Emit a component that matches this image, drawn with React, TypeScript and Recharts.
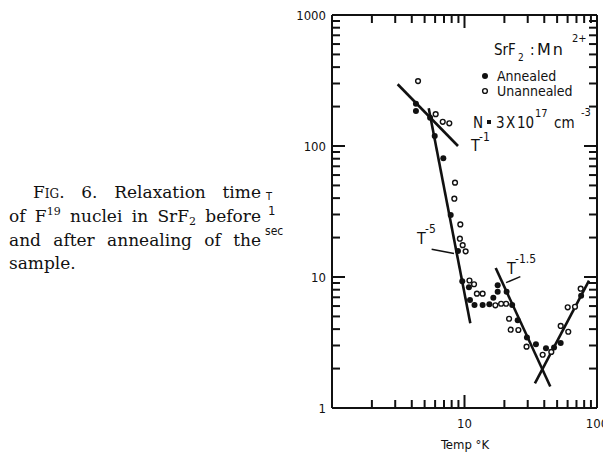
import { ReferenceLine, Scatter, ScatterChart, XAxis, YAxis } from "recharts";

const annealedTemp = [4.3, 4.3, 5.5, 5.96, 6.92, 7.87, 8.93, 9.62, 10.8, 11.0, 11.9, 13.7, 15.4, 16.5, 17.8, 17.8, 20.8, 22.9, 25.2, 29.6, 34.6, 41.2, 47.4, 53.2, 75.9];
const annealedT1 = [210, 185, 164, 119, 80.5, 29.7, 15.8, 9.27, 8.34, 6.67, 6.11, 6.1, 6.2, 6.95, 8.64, 7.73, 7.7, 6.1, 4.67, 3.46, 3.06, 2.86, 2.89, 3.13, 7.2];
const unannealedTemp = [4.46, 6.06, 6.85, 7.68, 8.48, 8.38, 9.3, 9.23, 9.69, 10.2, 10.9, 11.8, 12.4, 13.7, 17.1, 18.9, 20.6, 21.7, 22.3, 25.5, 29.4, 38.9, 45.2, 53.2, 60.7, 60.1, 68.2, 75.3];
const unannealedT1 = [313, 175, 153, 149, 52.5, 39.6, 25.2, 19.6, 17.5, 15.7, 9.4, 8.8, 7.46, 7.46, 6.08, 6.25, 6.25, 4.8, 3.96, 3.94, 2.94, 2.55, 2.68, 4.23, 3.82, 5.87, 5.93, 8.14];

// fitted slopes T^-1, T^-5, T^-1.5 and the rising branch, plus the two label pointers
const fitLines = [
  [3.13, 296, 8.93, 100],
  [5.37, 194, 11.06, 4.43],
  [17.2, 11.7, 44.4, 1.46],
  [34.0, 1.54, 87.0, 9.37],
];
const pointerLines = [
  [5.65, 16.3, 8.33, 15.1],
  [20.6, 9.05, 26.4, 10.05],
];

const xTicks = [1, 2, 3, 4, 5, 6, 7, 8, 9, 10, 20, 30, 40, 50, 60, 70, 80, 90, 100];
const yTicks = [1, 2, 3, 4, 5, 6, 7, 8, 9, 10, 20, 30, 40, 50, 60, 70, 80, 90, 100, 200, 300, 400, 500, 600, 700, 800, 900, 1000];
const majorTicks = [1, 10, 100, 1000];
const xLabels = [10, 100];
const yLabels = [1, 10, 100, 1000];

const annealed = annealedTemp.map((t, i) => ({ t, v: annealedT1[i] }));
const unannealed = unannealedTemp.map((t, i) => ({ t, v: unannealedT1[i] }));

const sans = "'DejaVu Sans Condensed', 'DejaVu Sans', sans-serif";
const serif = "'DejaVu Serif', serif";
const ink = "#111111";
const TICK_W = 2;

const tickLen = (v: number) => (majorTicks.includes(v) ? 13 : 8);

// ticks point into the plot; tickSize/tickMargin are 0 so x,y sit on the axis line
function BottomTick(props: any) {
  const x = Number(props.x);
  const y = Number(props.y);
  const v = props.payload.value;
  return (
    <g>
      <path d={`M${x},${y}V${y - tickLen(v)}`} stroke={ink} strokeWidth={TICK_W} fill="none" />
      {xLabels.includes(v) && (
        <text x={x} y={y + 20} textAnchor="middle" fontFamily={sans} fontSize={13} fill={ink}>
          {v}
        </text>
      )}
    </g>
  );
}

function TopTick(props: any) {
  const x = Number(props.x);
  const y = Number(props.y);
  return <path d={`M${x},${y}V${y + tickLen(props.payload.value)}`} stroke={ink} strokeWidth={TICK_W} fill="none" />;
}

function LeftTick(props: any) {
  const x = Number(props.x);
  const y = Number(props.y);
  const v = props.payload.value;
  return (
    <g>
      <path d={`M${x},${y}H${x + tickLen(v)}`} stroke={ink} strokeWidth={TICK_W} fill="none" />
      {yLabels.includes(v) && (
        <text x={x - 6} y={y + 5} textAnchor="end" fontFamily={sans} fontSize={13} fill={ink}>
          {v}
        </text>
      )}
    </g>
  );
}

function RightTick(props: any) {
  const x = Number(props.x);
  const y = Number(props.y);
  return <path d={`M${x},${y}H${x - tickLen(props.payload.value)}`} stroke={ink} strokeWidth={TICK_W} fill="none" />;
}

const filledDot = (p: any) => <circle cx={p.cx} cy={p.cy} r={3} fill={ink} />;
const openDot = (p: any) => <circle cx={p.cx} cy={p.cy} r={2.4} fill="#fff" stroke={ink} strokeWidth={1.4} />;

const axisLine = { stroke: ink, strokeWidth: 2 };

function seg(key: string, x1: number, y1: number, x2: number, y2: number, w: number) {
  return (
    <ReferenceLine key={key} xAxisId="b" yAxisId="l" segment={[{ x: x1, y: y1 }, { x: x2, y: y2 }]}
      stroke={ink} strokeWidth={w} ifOverflow="visible" />
  );
}

export default function App() {
  const lineStyle = { position: "absolute" as const, fontFamily: serif, fontSize: 17, lineHeight: "24px", color: ink, whiteSpace: "nowrap" as const };
  const justify = { textAlign: "justify" as const, textAlignLast: "justify" as const };
  const sup = { fontSize: 11, position: "relative" as const, top: -7 };
  const sub = { fontSize: 11, position: "relative" as const, top: 3 };

  return (
    <div style={{ position: "absolute", left: 0, top: 0, width: 603, height: 454, background: "#fff", overflow: "hidden" }}>
      <ScatterChart width={603} height={454} margin={{ top: 14, right: 5, bottom: 16, left: 292 }}>
        <XAxis xAxisId="b" type="number" dataKey="t" scale="log" domain={[1, 100]} ticks={xTicks} interval={0}
          tickSize={0} tickMargin={0} tickLine={false} tick={(p: any) => <BottomTick {...p} />} axisLine={axisLine} height={30} allowDataOverflow />
        <XAxis xAxisId="t" orientation="top" type="number" dataKey="t" scale="log" domain={[1, 100]} ticks={xTicks} interval={0}
          tickSize={0} tickMargin={0} tickLine={false} tick={(p: any) => <TopTick {...p} />} axisLine={axisLine} height={1} allowDataOverflow />
        <YAxis yAxisId="l" type="number" dataKey="v" scale="log" domain={[1, 1000]} ticks={yTicks} interval={0}
          tickSize={0} tickMargin={0} tickLine={false} tick={(p: any) => <LeftTick {...p} />} axisLine={axisLine} width={40} allowDataOverflow />
        <YAxis yAxisId="r" orientation="right" type="number" dataKey="v" scale="log" domain={[1, 1000]} ticks={yTicks} interval={0}
          tickSize={0} tickMargin={0} tickLine={false} tick={(p: any) => <RightTick {...p} />} axisLine={axisLine} width={1} allowDataOverflow />

        {fitLines.map(([x1, y1, x2, y2], i) => seg("f" + i, x1, y1, x2, y2, 2.6))}
        {pointerLines.map(([x1, y1, x2, y2], i) => seg("p" + i, x1, y1, x2, y2, 1.4))}

        <Scatter name="Unannealed" data={unannealed} xAxisId="b" yAxisId="l" shape={openDot} isAnimationActive={false} />
        <Scatter name="Annealed" data={annealed} xAxisId="b" yAxisId="l" shape={filledDot} isAnimationActive={false} />
      </ScatterChart>

      <svg width={603} height={454} style={{ position: "absolute", left: 0, top: 0, pointerEvents: "none" }} fontFamily={sans} fill={ink}>
        <text x={494} y={55} fontSize={15}>SrF</text>
        <text x={518} y={61} fontSize={10}>2</text>
        <text x={530} y={55} fontSize={15}>:</text>
        <text x={537} y={55} fontSize={16} fontFamily="'DejaVu Sans', sans-serif" letterSpacing={2}>Mn</text>
        <text x={572} y={42} fontSize={11}>2+</text>
        <circle cx={485} cy={76} r={3} />
        <text x={497} y={81} fontSize={14}>Annealed</text>
        <circle cx={485} cy={91} r={2.4} fill="#fff" stroke={ink} strokeWidth={1.4} />
        <text x={497} y={96} fontSize={14}>Unannealed</text>
        <text x={473} y={128} fontSize={15}>N</text>
        <rect x={487} y={120} width={4} height={4} />
        <text x={496} y={128} fontSize={15}>3</text>
        <text x={506} y={128} fontSize={15}>X</text>
        <text x={517} y={128} fontSize={15}>10</text>
        <text x={535} y={117} fontSize={11}>17</text>
        <text x={554} y={128} fontSize={15}>cm</text>
        <text x={581} y={116} fontSize={11}>-3</text>

        <text x={471} y={151} fontSize={16}>T</text>
        <text x={479} y={141} fontSize={12}>-1</text>
        <text x={417} y={244} fontSize={16}>T</text>
        <text x={425} y={233} fontSize={12}>-5</text>
        <text x={507} y={274} fontSize={16}>T</text>
        <text x={515} y={263} fontSize={12}>-1.5</text>

        <text x={266} y={200} fontSize={11}>T</text>
        <text x={268} y={215} fontSize={13}>1</text>
        <text x={265} y={235} fontSize={12}>sec</text>

        <text x={465} y={449} fontSize={13} textAnchor="middle">Temp °K</text>
      </svg>

      <div style={{ ...lineStyle, ...justify, left: 33, top: 180, width: 228 }}>
        F<span style={{ fontVariant: "small-caps" }}>ig</span>. 6. Relaxation time
      </div>
      <div style={{ ...lineStyle, ...justify, left: 9, top: 204, width: 252 }}>
        of F<span style={sup}>19</span> nuclei in SrF<span style={sub}>2</span> before
      </div>
      <div style={{ ...lineStyle, ...justify, left: 9, top: 228, width: 252 }}>
        and after annealing of the
      </div>
      <div style={{ ...lineStyle, left: 9, top: 251 }}>sample.</div>
    </div>
  );
}
